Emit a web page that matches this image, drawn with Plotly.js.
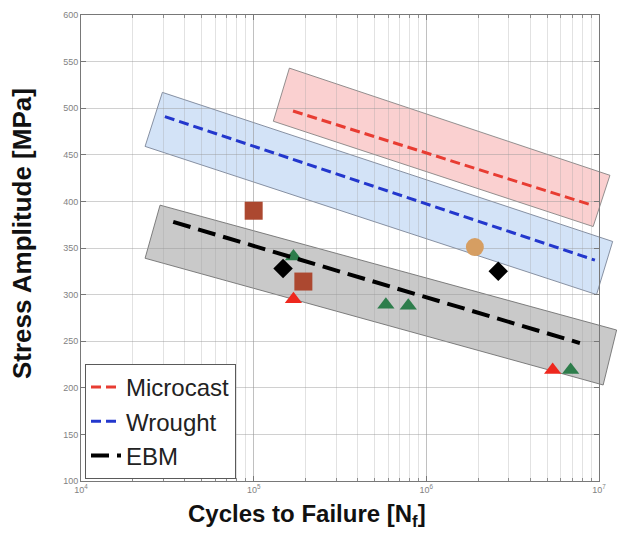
<!DOCTYPE html>
<html>
<head>
<meta charset="utf-8">
<script src="https://cdn.plot.ly/plotly-3.0.1.min.js"></script>
<style>html,body{margin:0;padding:0;background:#fff;}#chart{width:628px;height:533px;}</style>
</head>
<body>
<div id="chart"></div>
<script>
// ---- data ----
const seriesNames = ['Microcast', 'Wrought', 'EBM'];

const microcastX = [1.69e5, 9.1e6];
const microcastY = [497, 396];
const wroughtX = [3.06e4, 9.47e6];
const wroughtY = [491, 337];
const ebmX = [3.42e4, 7.75e6];
const ebmY = [378, 248];

const microcastBandX = [1.61e5, 1.157e7, 9.25e6, 1.30e5, 1.61e5];
const microcastBandY = [543, 428, 373, 486, 543];
const wroughtBandX = [2.96e4, 1.2e7, 9.68e6, 2.35e4, 2.96e4];
const wroughtBandY = [517, 357, 300, 459, 517];
const ebmBandX = [2.87e4, 1.265e7, 1.057e7, 2.35e4, 2.87e4];
const ebmBandY = [396, 262, 203, 339, 396];

const squareX = [1.0e5, 1.94e5];
const squareY = [390, 314];
const diamondX = [1.48e5, 2.61e6];
const diamondY = [328, 325];
const circleX = [1.91e6];
const circleY = [351];
const redTriX = [1.70e5, 5.39e6];
const redTriY = [295, 219];
const greenTriX = [1.70e5, 5.83e5, 7.86e5, 6.85e6];
const greenTriY = [341, 289, 288, 219];

const xTickVals = [1e4, 1e5, 1e6, 1e7];
const xTickText = ['10<sup>4</sup>', '10<sup>5</sup>', '10<sup>6</sup>', '10<sup>7</sup>'];
const yTickVals = [100, 150, 200, 250, 300, 350, 400, 450, 500, 550, 600];

// ---- layout geometry ----
const mainFrac = 518 / 541;           // visible axes domain inside plotting area
const xRange = [4, 7];
const xWideRange = [4, 4 + (xRange[1] - xRange[0]) / mainFrac];

const FONT = 'Arial, "Liberation Sans", sans-serif';

// bands live on the wide (hidden) axes x/y so they may run past the frame
function band(x, y, fill, edge) {
  return {x: x, y: y, xaxis: 'x', yaxis: 'y', type: 'scatter', mode: 'lines',
    fill: 'toself', fillcolor: fill, line: {color: edge, width: 1},
    showlegend: false, hoverinfo: 'skip'};
}
function pts(x, y, symbol, color, size) {
  return {x: x, y: y, xaxis: 'x2', yaxis: 'y2', type: 'scatter', mode: 'markers',
    marker: {symbol: symbol, color: color, size: size, line: {width: 0}},
    showlegend: false};
}
function line(x, y, name, color, width, dash) {
  return {x: x, y: y, xaxis: 'x2', yaxis: 'y2', type: 'scatter', mode: 'lines', name: name,
    line: {color: color, width: width, dash: dash}};
}

const traces = [
  band(microcastBandX, microcastBandY, 'rgba(240,120,120,0.35)', 'rgba(120,120,120,0.8)'),
  band(wroughtBandX, wroughtBandY, 'rgba(120,170,230,0.33)', 'rgba(110,120,140,0.8)'),
  band(ebmBandX, ebmBandY, 'rgba(130,130,130,0.43)', 'rgba(100,100,100,0.8)'),
  pts(greenTriX, greenTriY, 'triangle-up', 'rgb(45,125,75)', 15),
  pts(redTriX, redTriY, 'triangle-up', 'rgb(238,40,30)', 15),
  pts(squareX, squareY, 'square', 'rgb(172,72,48)', 18),
  pts(circleX, circleY, 'circle', 'rgb(214,158,98)', 18),
  pts(diamondX, diamondY, 'diamond', 'rgb(0,0,0)', 15),
  line(microcastX, microcastY, seriesNames[0], 'rgb(232,60,50)', 3, '10px,5px'),
  line(wroughtX, wroughtY, seriesNames[1], 'rgb(35,55,205)', 3, '10px,5px'),
  line(ebmX, ebmY, seriesNames[2], 'rgb(0,0,0)', 4, '18px,8px')
];

const layout = {
  width: 628, height: 533,
  margin: {l: 81, r: 6, t: 15, b: 52},
  paper_bgcolor: '#fff', plot_bgcolor: 'rgba(0,0,0,0)',
  font: {family: FONT, color: '#222'},
  xaxis: {type: 'log', domain: [0, 1], range: xWideRange, anchor: 'y', visible: false,
          showgrid: false, zeroline: false, fixedrange: true},
  yaxis: {domain: [0, 1], range: [100, 600], anchor: 'x', visible: false,
          showgrid: false, zeroline: false, fixedrange: true},
  xaxis2: {
    type: 'log', domain: [0, mainFrac], range: xRange, anchor: 'y2',
    tickvals: xTickVals, ticktext: xTickText,
    tickfont: {size: 9, color: 'rgb(130,130,130)'},
    ticks: 'inside', ticklen: 5, tickcolor: 'rgb(120,120,120)',
    showline: true, linecolor: 'rgb(120,120,120)', linewidth: 1, mirror: 'allticks',
    showgrid: true, gridcolor: 'rgba(150,150,150,0.45)', gridwidth: 1,
    minor: {dtick: 'D1', showgrid: true, gridcolor: 'rgba(160,160,160,0.3)', gridwidth: 1,
            ticks: 'inside', ticklen: 3, tickcolor: 'rgb(140,140,140)'},
    zeroline: false, fixedrange: true
  },
  yaxis2: {
    domain: [0, 1], range: [100, 600], anchor: 'x2', tickvals: yTickVals,
    tickfont: {size: 9, color: 'rgb(130,130,130)'},
    ticks: 'inside', ticklen: 5, tickcolor: 'rgb(120,120,120)',
    showline: true, linecolor: 'rgb(120,120,120)', linewidth: 1, mirror: 'allticks',
    showgrid: true, gridcolor: 'rgba(150,150,150,0.45)', gridwidth: 1,
    zeroline: false, fixedrange: true
  },
  showlegend: true,
  legend: {
    x: 4 / 541, y: 2 / 466, xanchor: 'left', yanchor: 'bottom',
    bgcolor: '#fff', bordercolor: 'rgb(90,90,90)', borderwidth: 1,
    font: {family: FONT, size: 24, color: '#222'},
    traceorder: 'normal', itemwidth: 30
  },
  annotations: [
    {text: 'Cycles to Failure [N<sub>f</sub>]', xref: 'paper', yref: 'paper',
     x: (307 - 81) / 541, y: (481 - 515) / 466, xanchor: 'center', yanchor: 'middle',
     showarrow: false, font: {family: FONT, size: 24, weight: 'bold', color: '#111'}},
    {text: 'Stress Amplitude [MPa]', xref: 'paper', yref: 'paper', textangle: -90,
     x: (22 - 81) / 541, y: (481 - 234) / 466, xanchor: 'center', yanchor: 'middle',
     showarrow: false, font: {family: FONT, size: 26, weight: 'bold', color: '#111'}}
  ]
};

Plotly.newPlot('chart', traces, layout, {staticPlot: true, displayModeBar: false});
</script>
</body>
</html>
